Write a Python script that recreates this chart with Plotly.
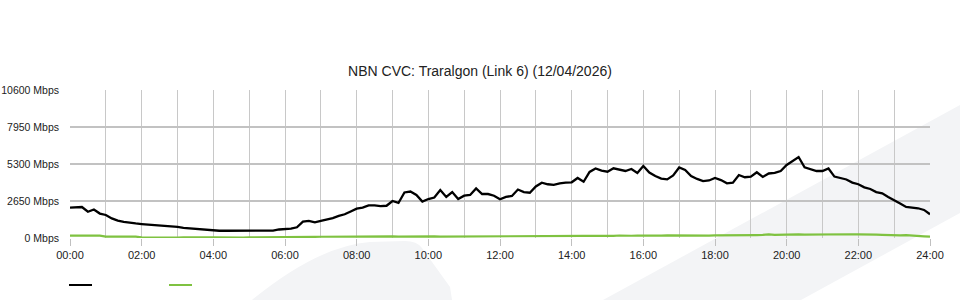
import plotly.graph_objects as go

# ---- data (10-minute samples, 00:00 .. 24:00) ----
times = [f"{(m // 60):02d}:{(m % 60):02d}" for m in range(0, 24 * 60 + 1, 10)]

download_mbps = [
    2170, 2185, 2220, 1880, 2040, 1750, 1650, 1400, 1240, 1150, 1120, 1040,
    1000, 970, 930, 910, 860, 810, 790, 720, 680, 670, 620, 570,
    520, 520, 520, 520, 520, 520, 520, 520, 520, 520, 530, 610,
    620, 670, 770, 1170, 1220, 1120, 1220, 1310, 1430, 1580, 1700, 1900,
    2100, 2170, 2330, 2340, 2290, 2310, 2650, 2510, 3260, 3330, 3080, 2610,
    2790, 2900, 3440, 2940, 3290, 2790, 3030, 3080, 3550, 3150, 3150, 3030,
    2770, 2940, 3010, 3470, 3290, 3240, 3690, 3960, 3850, 3800, 3920, 3970,
    3990, 4300, 4030, 4730, 4980, 4820, 4750, 4990, 4910, 4800, 4940, 4660,
    5160, 4690, 4440, 4260, 4200, 4480, 5050, 4870, 4440, 4230, 4080, 4120,
    4300, 4150, 3920, 3960, 4510, 4350, 4390, 4710, 4370, 4620, 4660, 4800,
    5230, 5540, 5800, 5060, 4930, 4800, 4800, 4980, 4400, 4300, 4190, 3970,
    3850, 3630, 3510, 3290, 3200, 2940, 2720, 2470, 2220, 2170, 2130, 2010,
    1700,
]

upload_mbps = [
    170, 170, 160, 170, 150, 165, 100, 95, 100, 95, 95, 100,
    40, 30, 60, 30, 50, 40, 30, 50, 60, 40, 30, 50,
    40, 30, 30, 30, 50, 30, 40, 40, 30, 30, 30, 40,
    40, 30, 50, 30, 60, 80, 90, 95, 90, 95, 95, 100,
    100, 100, 95, 100, 100, 100, 110, 100, 110, 100, 110, 105,
    100, 110, 100, 100, 110, 130, 140, 120, 140, 140, 140, 140,
    140, 140, 140, 140, 140, 140, 140, 150, 140, 140, 140, 140,
    150, 140, 150, 160, 150, 160, 150, 150, 180, 150, 160, 170,
    160, 180, 170, 170, 190, 180, 170, 190, 160, 170, 180, 170,
    190, 190, 160, 170, 180, 200, 200, 210, 220, 260, 230, 250,
    270, 250, 260, 240, 250, 240, 240, 250, 250, 260, 270, 270,
    260, 270, 250, 240, 230, 200, 200, 190, 200, 190, 180, 120,
    100,
]

y_ticks = [0, 2650, 5300, 7950, 10600]
y_tick_labels = [f"{v} Mbps" for v in y_ticks]
x_ticks = list(range(0, 25, 2))
x_tick_labels = [f"{h:02d}:00" for h in x_ticks]
title_text = "NBN CVC: Traralgon (Link 6) (12/04/2026)"

# ---- figure ----
hours = [int(t[:2]) + int(t[3:]) / 60 for t in times]

fig = go.Figure()
fig.add_trace(go.Scatter(x=hours, y=upload_mbps, mode="lines",
                         line=dict(color="#7fc241", width=2.2), name="Upload"))
fig.add_trace(go.Scatter(x=hours, y=download_mbps, mode="lines",
                         line=dict(color="#000000", width=2.3), name="Download"))

L, R, T, B = 70, 30, 90, 62
W, H = 960, 300
pw, ph = W - L - R, H - T - B


def px(x, y):
    return (x - L) / pw, (H - B - y) / ph


def path(pts, closing="Z"):
    s = ""
    for cmd, p in pts:
        xs = " ".join(f"{c:.4f}" for pair in [px(*q) for q in p] for c in pair)
        s += f"{cmd} {xs} "
    return s + closing


bg = "#f3f4f6"
shapes = [
    dict(type="path", xref="paper", yref="paper", layer="below",
         fillcolor=bg, line=dict(width=0),
         path=path([("M", [(603, 300)]), ("L", [(960, 105)]),
                    ("L", [(960, 213)]), ("L", [(801, 300)])])),
    dict(type="path", xref="paper", yref="paper", layer="below",
         fillcolor=bg, line=dict(width=0),
         path=path([("M", [(252, 300)]), ("Q", [(318, 246), (370, 242)]),
                    ("L", [(405, 241)]), ("Q", [(417, 241), (422, 248)]),
                    ("L", [(450, 287)]), ("L", [(452, 300)])])),
]
# legend swatches
for (x0, x1), col in [((69, 92), "#000000"), ((169, 192), "#7fc241")]:
    a = px(x0, 285)
    b = px(x1, 285)
    shapes.append(dict(type="line", xref="paper", yref="paper",
                       x0=a[0], x1=b[0], y0=a[1], y1=b[1],
                       line=dict(color=col, width=2)))

font = "Liberation Sans, Arial, sans-serif"
fig.update_layout(
    width=W, height=H,
    margin=dict(l=L, r=R, t=T, b=B, autoexpand=False),
    paper_bgcolor="white",
    plot_bgcolor="rgba(0,0,0,0)",
    showlegend=False,
    shapes=shapes,
    font=dict(family=font, size=11, color="#222222"),
    title=dict(text=title_text, x=0.5, xref="container", xanchor="center",
               y=1 - 71 / H, yref="container", yanchor="middle",
               font=dict(family=font, size=14, color="#222222")),
    xaxis=dict(range=[0, 24], tickvals=x_ticks, ticktext=x_tick_labels,
               showgrid=True, gridcolor="#c8c8c8", gridwidth=1,
               ticks="outside", ticklen=7, tickcolor="#c0c0c0",
               zeroline=False, showline=False, fixedrange=True,
               automargin=False,
               minor=dict(dtick=1, tick0=0, showgrid=True,
                          gridcolor="#c8c8c8", gridwidth=1)),
    yaxis=dict(range=[0, 10600], tickvals=y_ticks, ticktext=y_tick_labels,
               tickfont=dict(size=10.5),
               showgrid=True, gridcolor="#c2c2c2", gridwidth=1.5,
               ticks="", ticklabelstandoff=10, automargin=False,
               zeroline=False, showline=False, fixedrange=True),
)

fig.write_html("out.html")
